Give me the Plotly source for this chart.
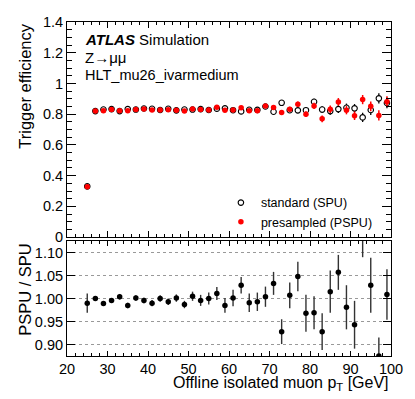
import plotly.graph_objects as go

# bin centres (offline muon pT, GeV)
pt = [25, 27, 29, 31, 33, 35, 37, 39, 41, 43, 45, 47, 49, 51, 53, 55, 57, 59, 61,
      63, 65, 67, 69, 71, 73, 75, 77, 79, 81, 83, 85, 87, 89, 91, 93, 95, 97, 99]

# standard pile-up (SPU) efficiency
eff_spu = [0.330, 0.820, 0.830, 0.833, 0.820, 0.833, 0.830, 0.837, 0.835, 0.827,
           0.835, 0.825, 0.830, 0.830, 0.833, 0.827, 0.836, 0.838, 0.826,
           0.818, 0.829, 0.828, 0.850, 0.816, 0.874, 0.826, 0.825, 0.826, 0.881,
           0.830, 0.820, 0.833, 0.842, 0.838, 0.779, 0.827, 0.903, 0.873]
eff_spu_err = [0.006, 0.003, 0.003, 0.003, 0.003, 0.003, 0.003, 0.003, 0.004, 0.004,
               0.004, 0.004, 0.005, 0.005, 0.006, 0.006, 0.007, 0.008, 0.009,
               0.010, 0.011, 0.012, 0.013, 0.014, 0.015, 0.016, 0.018, 0.019, 0.020,
               0.022, 0.024, 0.025, 0.027, 0.028, 0.030, 0.032, 0.033, 0.035]

# presampled pile-up (PSPU) efficiency
eff_pspu = [0.327, 0.820, 0.822, 0.831, 0.823, 0.822, 0.831, 0.834, 0.827, 0.827,
            0.829, 0.826, 0.820, 0.834, 0.830, 0.827, 0.845, 0.826, 0.827,
            0.842, 0.822, 0.822, 0.853, 0.843, 0.811, 0.832, 0.865, 0.800, 0.854,
            0.770, 0.832, 0.880, 0.826, 0.790, 0.895, 0.851, 0.792, 0.881]
eff_pspu_err = [0.006, 0.003, 0.003, 0.003, 0.003, 0.003, 0.003, 0.003, 0.004, 0.004,
                0.004, 0.004, 0.005, 0.005, 0.006, 0.006, 0.007, 0.008, 0.009,
                0.010, 0.011, 0.012, 0.013, 0.014, 0.015, 0.016, 0.018, 0.019, 0.020,
                0.022, 0.024, 0.025, 0.027, 0.028, 0.030, 0.032, 0.033, 0.035]

# PSPU / SPU
ratio = [0.990, 1.000, 0.989, 0.996, 1.004, 0.985, 1.001, 0.996, 0.990, 1.000,
         0.993, 1.001, 0.987, 1.005, 0.996, 1.000, 1.011, 0.985, 1.001,
         1.029, 0.991, 0.993, 1.004, 1.033, 0.928, 1.007, 1.048, 0.968, 0.969,
         0.928, 1.015, 1.057, 0.981, 0.943, 1.150, 1.029, 0.875, 1.009]
ratio_err = [0.021, 0.005, 0.005, 0.005, 0.006, 0.006, 0.006, 0.006, 0.007, 0.007,
             0.007, 0.008, 0.008, 0.010, 0.012, 0.013, 0.014, 0.016, 0.018,
             0.018, 0.020, 0.020, 0.022, 0.025, 0.027, 0.028, 0.032, 0.040, 0.036,
             0.040, 0.046, 0.038, 0.048, 0.052, 0.060, 0.060, 0.040, 0.055]

FONT = "Liberation Sans, Arial, Helvetica, sans-serif"

fig = go.Figure()

fig.add_trace(go.Scatter(
    x=pt, y=eff_spu, mode="markers", name="standard (SPU)",
    error_y=dict(type="data", array=eff_spu_err, color="black", thickness=1.3, width=0),
    marker=dict(symbol="circle", size=5.5, color="white", line=dict(color="black", width=1.1)),
))
fig.add_trace(go.Scatter(
    x=pt, y=eff_pspu, mode="markers", name="presampled (PSPU)",
    error_y=dict(type="data", array=eff_pspu_err, color="#ff0000", thickness=1.5, width=0),
    marker=dict(symbol="circle", size=5.5, color="#ff0000"),
))
fig.add_trace(go.Scatter(
    x=pt, y=ratio, mode="markers", xaxis="x2", yaxis="y2", showlegend=False,
    error_y=dict(type="data", array=ratio_err, color="#333333", thickness=1.4, width=0),
    marker=dict(symbol="circle", size=5.5, color="black"),
))

axis_common = dict(showline=True, linecolor="black", linewidth=1, mirror="ticks",
                   ticks="inside", tickcolor="black", showgrid=False, zeroline=False,
                   tickfont=dict(size=14.5, color="black"))

fig.update_layout(
    width=415, height=399,
    margin=dict(l=67, r=22, t=22, b=43),
    paper_bgcolor="white", plot_bgcolor="white",
    font=dict(family=FONT, color="black"),
    showlegend=True,
    legend=dict(x=0.475, y=0.503, xanchor="left", yanchor="top",
                bgcolor="rgba(0,0,0,0)", font=dict(size=12.5), tracegroupgap=0),
    xaxis=dict(domain=[0, 1], range=[20, 100], anchor="y", dtick=10, ticklen=6,
               showticklabels=False,
               minor=dict(dtick=2, ticks="inside", ticklen=3, tickcolor="black"),
               **axis_common),
    yaxis=dict(domain=[0.356, 1], range=[0, 1.4], anchor="x", dtick=0.2, ticklen=9,
               minor=dict(dtick=0.05, ticks="inside", ticklen=5, tickcolor="black"),
               **axis_common),
    xaxis2=dict(domain=[0, 1], range=[20, 100], anchor="y2", dtick=10, ticklen=5,
                minor=dict(dtick=2, ticks="inside", ticklen=3, tickcolor="black"),
                **axis_common),
    yaxis2=dict(domain=[0, 0.344], range=[0.875, 1.125], anchor="x2",
                tickvals=[0.90, 0.95, 1.00, 1.05, 1.10], tickformat=".2f", ticklen=8,
                **{k: v for k, v in axis_common.items() if k != "showgrid"},
                showgrid=True, gridcolor="#999999", griddash="dot", gridwidth=1),
)

annotations = [
    dict(text="<b><i>ATLAS</i></b> Simulation", x=0.049, y=0.949, size=15),
    dict(text="Z\u2192\u03bc\u03bc", x=0.049, y=0.895, size=15),
    dict(text="HLT_mu26_ivarmedium", x=0.049, y=0.841, size=14.5),
]
for a in annotations:
    fig.add_annotation(text=a["text"], x=a["x"], y=a["y"], xref="paper", yref="paper",
                       xanchor="left", yanchor="middle", showarrow=False,
                       font=dict(size=a["size"], color="black"))

fig.add_annotation(text="Trigger efficiency", x=-0.132, y=1.0, xref="paper", yref="paper",
                   xanchor="center", yanchor="top", textangle=-90, showarrow=False,
                   font=dict(size=16.5, color="black"))
fig.add_annotation(text="PSPU / SPU", x=-0.132, y=0.344, xref="paper", yref="paper",
                   xanchor="center", yanchor="top", textangle=-90, showarrow=False,
                   font=dict(size=16.5, color="black"))
fig.add_annotation(text="Offline isolated muon p<sub>T</sub> [GeV]", x=1.0, y=-0.047,
                   xref="paper", yref="paper", xanchor="right", yanchor="top",
                   showarrow=False, font=dict(size=16, color="black"))

# the page body has a default 8px margin; drop it so the figure fills the window
fig.write_html("out.html", config={"displayModeBar": False},
               post_script="document.body.style.margin='0';")
